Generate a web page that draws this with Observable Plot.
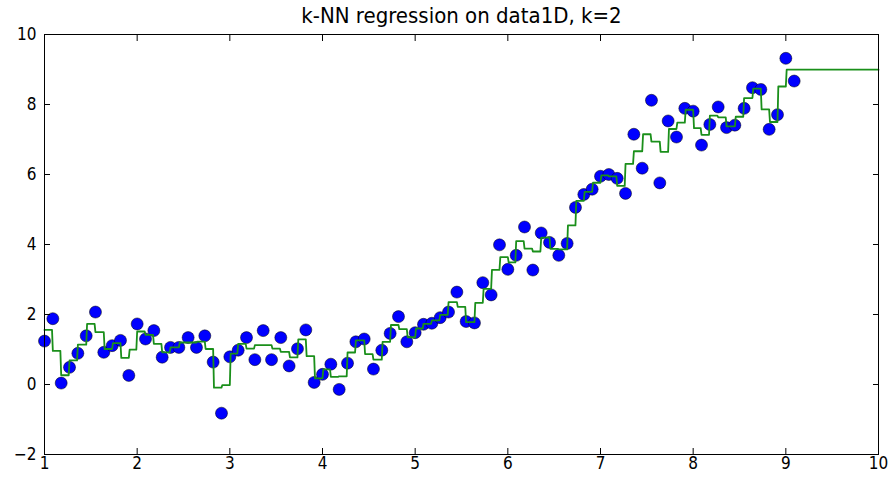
<!DOCTYPE html>
<html><head><meta charset="utf-8">
<script src="https://cdn.jsdelivr.net/npm/d3@7"></script>
<script src="https://cdn.jsdelivr.net/npm/@observablehq/plot@0.6"></script>
<style>html,body{margin:0;padding:0;background:#fff} svg{display:block}</style>
</head><body><div id="chart"></div>
<script>
const title = "k-NN regression on data1D, k=2";
const xs = [1.00,1.09,1.18,1.27,1.36,1.45,1.55,1.64,1.73,1.82,1.91,
            2.00,2.09,2.18,2.27,2.36,2.45,2.55,2.64,2.73,2.82,2.91,
            3.00,3.09,3.18,3.27,3.36,3.45,3.55,3.64,3.73,3.82,3.91,
            4.00,4.09,4.18,4.27,4.36,4.45,4.55,4.64,4.73,4.82,4.91,
            5.00,5.09,5.18,5.27,5.36,5.45,5.55,5.64,5.73,5.82,5.91,
            6.00,6.09,6.18,6.27,6.36,6.45,6.55,6.64,6.73,6.82,6.91,
            7.00,7.09,7.18,7.27,7.36,7.45,7.55,7.64,7.73,7.82,7.91,
            8.00,8.09,8.18,8.27,8.36,8.45,8.55,8.64,8.73,8.82,8.91,
            9.00,9.09];
const ys = [1.24,1.88,0.04,0.49,0.89,1.39,2.07,0.92,1.11,1.26,0.26,
            1.73,1.30,1.54,0.78,1.06,1.06,1.34,1.06,1.39,0.64,-0.82,
            0.79,0.98,1.34,0.71,1.54,0.71,1.34,0.53,1.02,1.56,0.06,
            0.29,0.58,-0.14,0.61,1.22,1.30,0.44,0.98,1.46,1.94,1.22,
            1.48,1.72,1.75,1.91,2.07,2.64,1.80,1.76,2.91,2.56,3.99,
            3.29,3.69,4.50,3.27,4.33,4.06,3.69,4.03,5.06,5.43,5.58,
            5.95,6.00,5.89,5.46,7.15,6.18,8.12,5.76,7.53,7.07,7.89,
            7.81,6.84,7.43,7.93,7.34,7.41,7.89,8.48,8.43,7.29,7.71,
            9.32,8.67];
const xTicks = [1,2,3,4,5,6,7,8,9,10];
const yTicks = [-2,0,2,4,6,8,10];
const k = 2;

const points = xs.map((x, i) => ({x, y: ys[i]}));
// k-NN regression prediction evaluated on a dense test grid
const grid = d3.range(1000).map(i => 1 + 9 * i / 999);
const pred = grid.map(t => {
  const near = points.map(p => ({d: Math.abs(p.x - t), y: p.y}))
    .sort((a, b) => a.d - b.d).slice(0, k);
  return {x: t, y: d3.mean(near, e => e.y)};
});

const chart = Plot.plot({
  width: 891, height: 478,
  marginLeft: 44, marginRight: 13, marginTop: 34, marginBottom: 24,
  style: {fontFamily: "'DejaVu Sans Condensed', 'DejaVu Sans'", fontSize: "17px", background: "#fff", color: "#000", overflow: "visible"},
  x: {domain: [1, 10], label: null},
  y: {domain: [-2, 10], label: null},
  marks: [
    Plot.dot(points, {x: "x", y: "y", r: 6, fill: "#0000ff", stroke: "#000", strokeWidth: 0.5}),
    Plot.line(pred, {x: "x", y: "y", stroke: "#1a8f1a", strokeWidth: 1.8}),
    Plot.frame({stroke: "#000", strokeWidth: 1}),
    Plot.axisX(xTicks, {anchor: "bottom", tickSize: -6, tickPadding: 8, label: null, fontSize: 17}),
    Plot.axisX(xTicks, {anchor: "top", tickSize: -6, tickFormat: () => "", label: null}),
    Plot.axisY(yTicks, {anchor: "left", tickSize: -6, tickPadding: 14, label: null, fontSize: 17}),
    Plot.axisY(yTicks, {anchor: "right", tickSize: -6, tickFormat: () => "", label: null}),
    Plot.text([title], {text: d => d, frameAnchor: "top", dy: -19, fontSize: 22, lineAnchor: "middle"})
  ]
});
document.getElementById("chart").appendChild(chart);
</script>
</body></html>
